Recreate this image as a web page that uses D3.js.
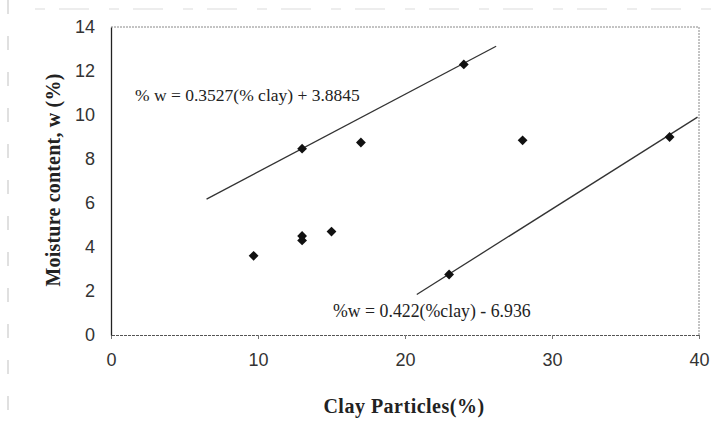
<!DOCTYPE html>
<html><head><meta charset="utf-8">
<script src="https://cdn.jsdelivr.net/npm/d3@7"></script>
<style>html,body{margin:0;padding:0;background:#fff;}svg{display:block;}</style>
</head><body>
<script>
const clay     = [9.7, 13, 13, 15, 13, 17, 24, 28, 38, 23];
const moisture = [3.6, 4.5, 4.3, 4.7, 8.47, 8.75, 12.3, 8.85, 9.0, 2.75];
const xTicks = [0, 10, 20, 30, 40];
const yTicks = [0, 2, 4, 6, 8, 10, 12, 14];
const fit1 = {slope: 0.3527, intercept: 3.8845, from: 6.5, to: 26.2, label: "% w = 0.3527(% clay) + 3.8845"};
const fit2 = {slope: 0.422, intercept: -6.936, from: 20.8, to: 39.9, label: "%w = 0.422(%clay) - 6.936"};
const xTitle = "Clay Particles(%)";
const yTitle = "Moisture content, w (%)";

const W = 719, H = 423;
const m = {left: 111, top: 27, right: 20, bottom: 88};
const svg = d3.select("body").append("svg").attr("width", W).attr("height", H);
const x = d3.scaleLinear().domain([0, 40]).range([m.left, W - m.right]);
const y = d3.scaleLinear().domain([0, 14]).range([H - m.bottom, m.top]);

// scan artefacts
svg.append("line").attr("x1", 8).attr("x2", 8).attr("y1", 0).attr("y2", H)
  .attr("stroke", "#999").attr("stroke-width", 1).attr("stroke-dasharray", "14,22").attr("opacity", 0.6);
svg.append("line").attr("x1", 35).attr("x2", W).attr("y1", 9).attr("y2", 9)
  .attr("stroke", "#bbb").attr("stroke-width", 1).attr("stroke-dasharray", "10,14,30,20").attr("opacity", 0.5);

// plot frame: top & right dotted
svg.append("path").attr("d", `M${x(0)},${y(14)}H${x(40)}V${y(0)}`)
  .attr("fill", "none").attr("stroke", "#888").attr("stroke-width", 1).attr("stroke-dasharray", "2,1");

// x axis
const xAxis = d3.axisBottom(x).tickValues(xTicks).tickSize(4).tickPadding(14).tickFormat(d3.format("d"));
const gx = svg.append("g").attr("transform", `translate(0,${y(0)})`).call(xAxis);
gx.select(".domain").attr("stroke", "#555").attr("stroke-dasharray", "3,1");
gx.selectAll(".tick line").attr("stroke", "#777");
gx.selectAll("text").attr("font-family", "Liberation Sans, Arial, sans-serif").attr("font-size", 18).attr("fill", "#333");

// y axis
const yAxis = d3.axisLeft(y).tickValues(yTicks).tickSize(0).tickPadding(16).tickFormat(d3.format("d"));
const gy = svg.append("g").attr("transform", `translate(${x(0)},0)`).call(yAxis);
gy.select(".domain").attr("stroke", "#222").attr("stroke-width", 1.3);
gy.selectAll("text").attr("font-family", "Liberation Sans, Arial, sans-serif").attr("font-size", 18).attr("fill", "#333");

// fit lines
[fit1, fit2].forEach(f => {
  svg.append("line")
    .attr("x1", x(f.from)).attr("y1", y(f.slope * f.from + f.intercept))
    .attr("x2", x(f.to)).attr("y2", y(f.slope * f.to + f.intercept))
    .attr("stroke", "#333").attr("stroke-width", 1.3);
});

// points
const diamond = d3.symbol().type(d3.symbolSquare).size(48);
svg.append("g").selectAll("path").data(clay.map((c, i) => [c, moisture[i]])).join("path")
  .attr("d", diamond)
  .attr("transform", d => `translate(${x(d[0])},${y(d[1])}) rotate(45)`)
  .attr("fill", "#111");

// equations
svg.append("text").attr("x", 135).attr("y", 101)
  .attr("font-family", "Liberation Serif, Times New Roman, serif").attr("font-size", 17.5).attr("fill", "#222")
  .text(fit1.label);
svg.append("text").attr("x", 333).attr("y", 317)
  .attr("font-family", "Liberation Serif, Times New Roman, serif").attr("font-size", 17.8).attr("fill", "#222")
  .text(fit2.label);

// titles
svg.append("text").attr("x", 404).attr("y", 413).attr("text-anchor", "middle")
  .attr("font-family", "Liberation Serif, Times New Roman, serif").attr("font-weight", "bold").attr("font-size", 20)
  .attr("letter-spacing", 0.5).attr("fill", "#222")
  .text(xTitle);
svg.append("text").attr("transform", `translate(60,180) rotate(-90)`).attr("text-anchor", "middle")
  .attr("font-family", "Liberation Serif, Times New Roman, serif").attr("font-weight", "bold").attr("font-size", 20)
  .attr("letter-spacing", 0.2).attr("fill", "#222")
  .text(yTitle);
</script>
</body></html>
